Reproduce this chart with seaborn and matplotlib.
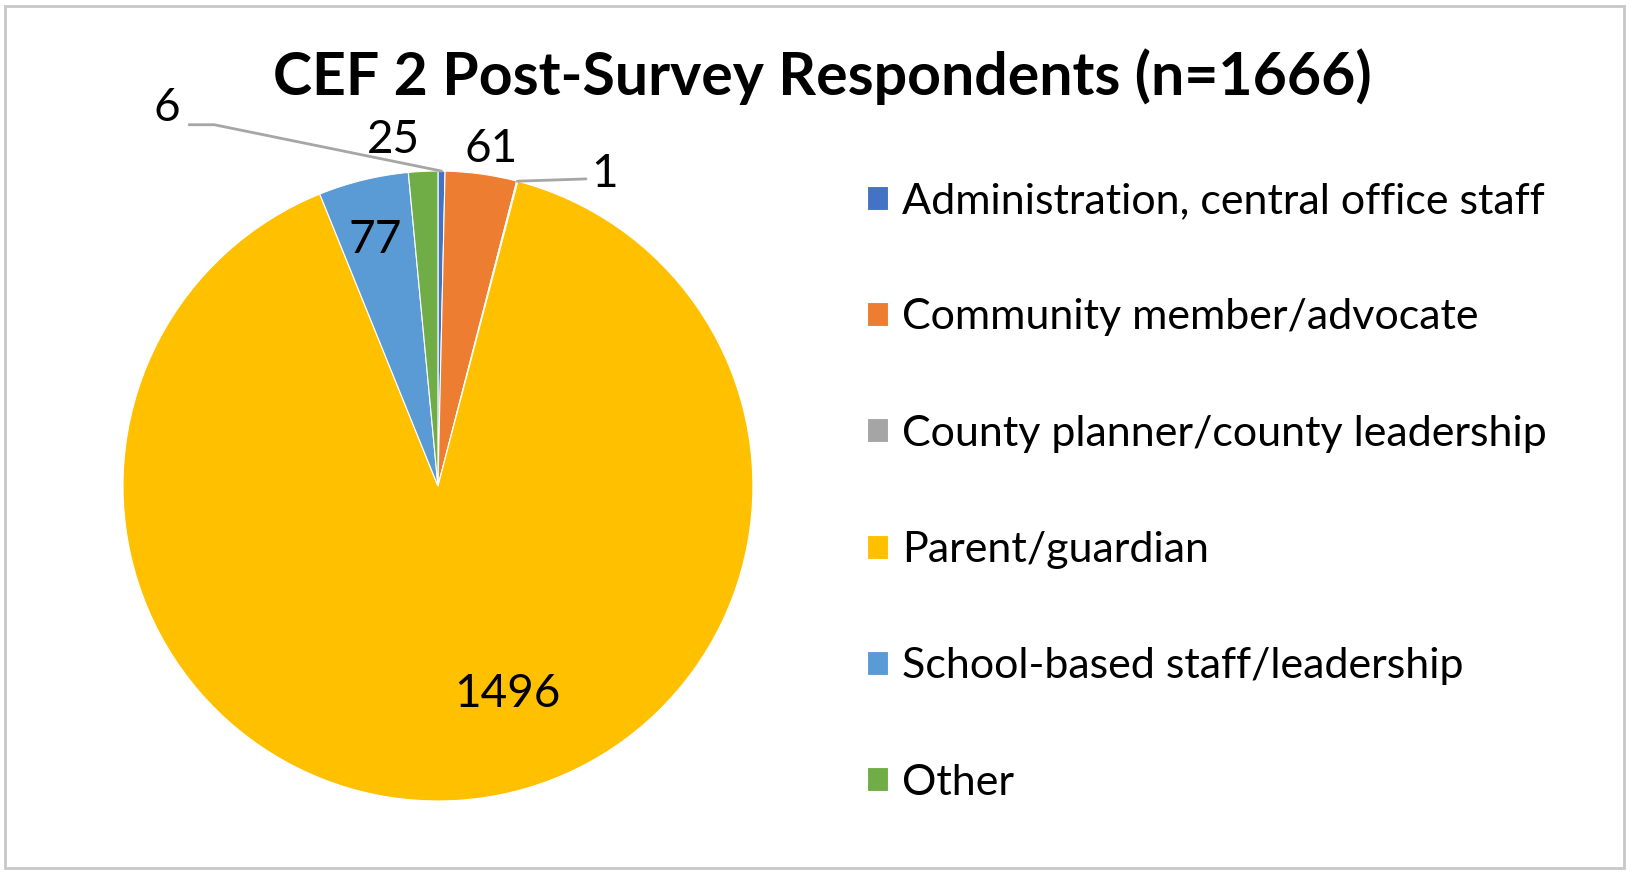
import numpy as np
import matplotlib
matplotlib.use("Agg")
import matplotlib.pyplot as plt
import seaborn as sns
from matplotlib.patches import Rectangle

# data
categories = ["Administration, central office staff", "Community member/advocate",
              "County planner/county leadership", "Parent/guardian",
              "School-based staff/leadership", "Other"]
counts = [6, 61, 1, 1496, 77, 25]
colors = ["#4472C4", "#ED7D31", "#A5A5A5", "#FFC000", "#5B9BD5", "#70AD47"]

# label positions in pie units (Excel moved some of them by hand)
label_pos = [(-0.86, 1.20), (0.17, 1.07), (0.53, 0.99), (0.22, -0.66), (-0.20, 0.78), (-0.14, 1.10)]

sns.set_theme(style="white")
plt.rcParams["font.family"] = ["Lato", "DejaVu Sans"]
plt.rcParams["text.color"] = "black"

fig = plt.figure(figsize=(16.29, 8.72), dpi=100)
fig.patches.append(Rectangle((0.003, 0.005), 0.994, 0.988, transform=fig.transFigure,
                             fill=False, edgecolor="#c8c8c8", linewidth=2))

ax = fig.add_axes([0.0755, 0.0814, 0.3867, 0.7225])
wedges, _ = ax.pie(counts, colors=colors, startangle=90, counterclock=False,
                   wedgeprops=dict(edgecolor="white", linewidth=0.8))
ax.set_xlim(-1, 1)
ax.set_ylim(-1, 1)
ax.set_aspect("equal")
ax.axis("off")

for val, (x, y) in zip(counts, label_pos):
    ax.text(x, y, str(val), fontsize=33, ha="center", va="center", color="black")

# leader lines for the two thin slices
total = sum(counts)
def mid_point(i):
    start = sum(counts[:i]) / total * 360
    mid = np.deg2rad(90 - (start + counts[i] / total * 180))
    return np.cos(mid), np.sin(mid)

mx, my = mid_point(0)
ax.plot([-0.79, -0.71, mx], [1.147, 1.147, my], color="#a6a6a6", lw=2, clip_on=False)
mx, my = mid_point(2)
ax.plot([mx, 0.47], [my, 0.975], color="#a6a6a6", lw=2, clip_on=False)

fig.text(0.505, 0.912, "CEF 2 Post-Survey Respondents (n=1666)", fontsize=42.5,
         fontweight="bold", ha="center", va="center", color="black")

fig.legend(wedges, categories, loc="upper left", bbox_to_anchor=(0.519, 0.816),
           frameon=False, fontsize=31, labelspacing=1.82, handlelength=0.48,
           handleheight=0.48, handletextpad=0.33, borderpad=0, labelcolor="black")

fig.savefig("out.png", dpi=100)
